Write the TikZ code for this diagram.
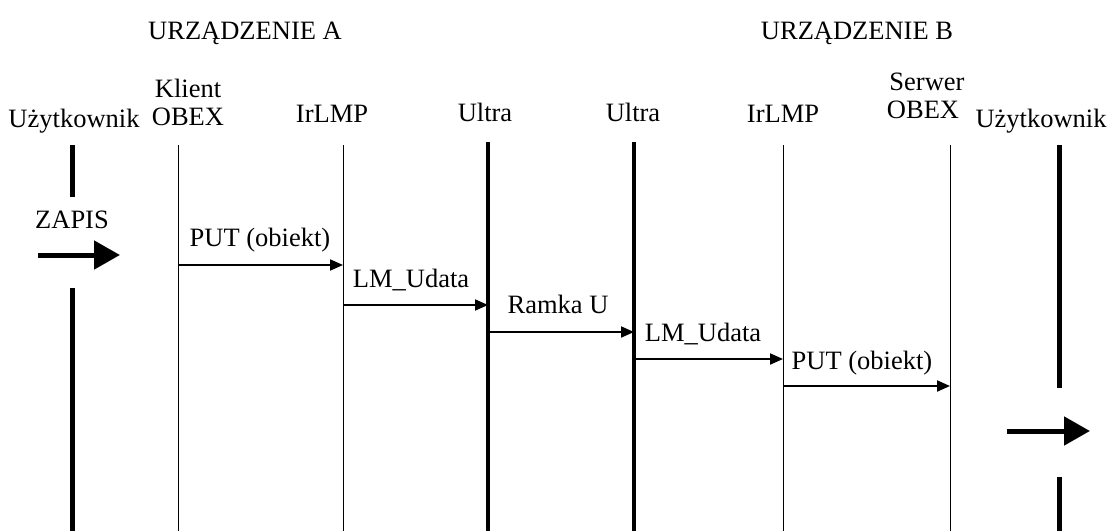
\documentclass[tikz,border=0pt]{standalone}
\usepackage{fontspec}
\setmainfont{Liberation Serif}
\usetikzlibrary{arrows.meta}
\begin{document}
\begin{tikzpicture}[x=1pt,y=-1pt,
  lbl/.style={font=\fontsize{26.5}{30}\selectfont, inner sep=0pt, anchor=base},
  thinlife/.style={line width=0.9pt},
  thicklife/.style={line width=4pt},
  userlife/.style={line width=5pt},
  msg/.style={line width=1.9pt, -{Triangle[length=13pt,width=11pt]}},
  bigarrow/.style={line width=5pt, -{Triangle[length=26pt,width=28pt]}}]
\useasboundingbox (0,0) rectangle (1116,531);

% headers
\node[lbl] (hA) at (245,39) {URZĄDZENIE A};
\node[lbl] (hB) at (857,39) {URZĄDZENIE B};

% lifeline heads
\node[lbl] (uA) at (74,127) {Użytkownik};
\node[lbl] (kl1) at (188,97) {Klient};
\node[lbl] (kl2) at (188,125) {OBEX};
\node[lbl] (irA) at (332,122) {IrLMP};
\node[lbl] (ulA) at (485,121) {Ultra};
\node[lbl] (ulB) at (633,121) {Ultra};
\node[lbl] (irB) at (783,122) {IrLMP};
\node[lbl] (se1) at (927,90) {Serwer};
\node[lbl] (se2) at (923,118) {OBEX};
\node[lbl] (uB) at (1041,127) {Użytkownik};

% lifeline coordinates
\coordinate (uAT) at (72,145);  \coordinate (uAM1) at (72,197);
\coordinate (uAM2) at (72,288); \coordinate (uAB) at (72,531);
\coordinate (kT) at (178,145);  \coordinate (kB) at (178,531);
\coordinate (iaT) at (343,145); \coordinate (iaB) at (343,531);
\coordinate (uaT) at (488,142); \coordinate (uaB) at (488,531);
\coordinate (ubT) at (634,142); \coordinate (ubB) at (634,531);
\coordinate (ibT) at (783,145); \coordinate (ibB) at (783,531);
\coordinate (sT) at (950,145);  \coordinate (sB) at (950,531);
\coordinate (uBT) at (1059,145); \coordinate (uBM1) at (1059,388);
\coordinate (uBM2) at (1059,477); \coordinate (uBB) at (1059,531);

\draw[userlife] (uAT) -- (uAM1);
\draw[userlife] (uAM2) -- (uAB);
\draw[thinlife] (kT) -- (kB);
\draw[thinlife] (iaT) -- (iaB);
\draw[thicklife] (uaT) -- (uaB);
\draw[thicklife] (ubT) -- (ubB);
\draw[thinlife] (ibT) -- (ibB);
\draw[thinlife] (sT) -- (sB);
\draw[userlife] (uBT) -- (uBM1);
\draw[userlife] (uBM2) -- (uBB);

% big arrows
\node[lbl] (zap) at (72,228) {ZAPIS};
\coordinate (zA1) at (38,255);   \coordinate (zA2) at (120,255);
\draw[bigarrow] (zA1) -- (zA2);
\coordinate (zB1) at (1007,431); \coordinate (zB2) at (1090,431);
\draw[bigarrow] (zB1) -- (zB2);

% messages
\coordinate (m1a) at (178,265); \coordinate (m1b) at (343,265);
\coordinate (m2a) at (343,305); \coordinate (m2b) at (488,305);
\coordinate (m3a) at (488,332); \coordinate (m3b) at (634,332);
\coordinate (m4a) at (634,359); \coordinate (m4b) at (783,359);
\coordinate (m5a) at (783,386); \coordinate (m5b) at (950,386);
\draw[msg] (m1a) -- (m1b);
\draw[msg] (m2a) -- (m2b);
\draw[msg] (m3a) -- (m3b);
\draw[msg] (m4a) -- (m4b);
\draw[msg] (m5a) -- (m5b);
\node[lbl] (t1) at (260,246) {PUT (obiekt)};
\node[lbl] (t2) at (411,287) {LM\_Udata};
\node[lbl] (t3) at (558,313) {Ramka U};
\node[lbl] (t4) at (703,341) {LM\_Udata};
\node[lbl] (t5) at (862,369) {PUT (obiekt)};
\end{tikzpicture}
\end{document}
